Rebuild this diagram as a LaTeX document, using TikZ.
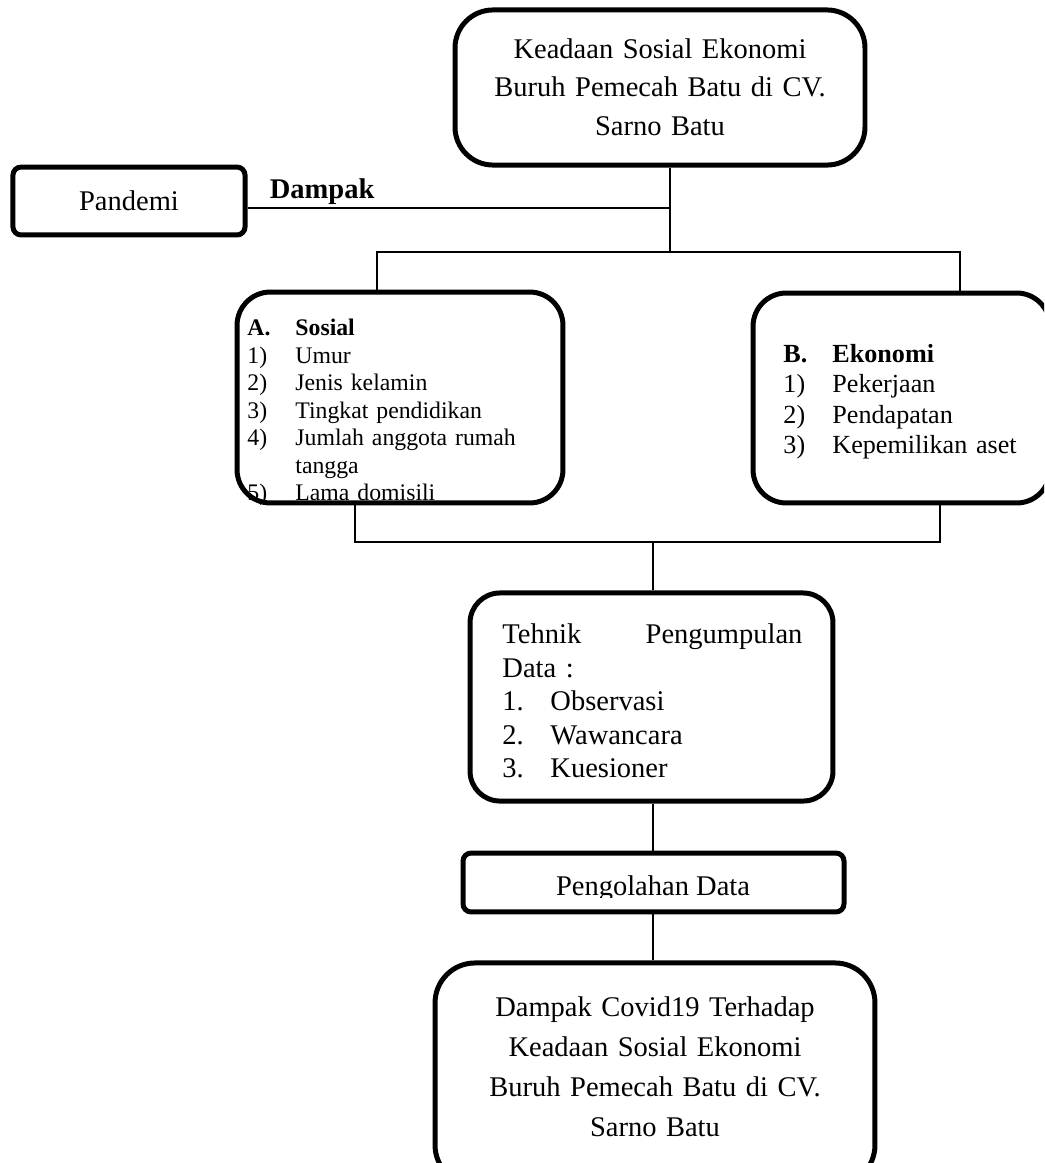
\documentclass[tikz,border=0pt]{standalone}
\usepackage{fontspec}
\setmainfont{Liberation Serif}
\usepackage{tikz}
\newcommand{\butir}[3][20.2pt]{\makebox[#1][l]{#2}#3}

\begin{document}
\begin{tikzpicture}[x=0.421pt,y=-0.421pt,
    kotak/.style={draw,line width=2.1pt,inner sep=0pt},
    garis/.style={line width=0.85pt},
    teks/.style={inner sep=0pt,anchor=north west,align=left}]
  \useasboundingbox (0,0) rectangle (1044,1163);
  \clip (0,0) rectangle (1044,1163);
  % kotak
  \node[kotak,rounded corners=16pt,minimum width=172.6pt,minimum height=65.3pt] (atas) at (660,87.5) {};
  \node[kotak,rounded corners=3.4pt,minimum width=97.7pt,minimum height=28.6pt,font=\fontsize{12}{14}\selectfont] (pandemi) at (129,201) {Pandemi};
  \node[kotak,rounded corners=14pt,minimum width=137.2pt,minimum height=88.8pt] (sosial) at (400,397.5) {};
  \node[kotak,rounded corners=14pt,minimum width=125pt,minimum height=88.4pt] (ekonomi) at (901.5,398) {};
  \node[kotak,rounded corners=12.6pt,minimum width=152.8pt,minimum height=87.6pt] (tehnik) at (651.5,697) {};
  \node[kotak,rounded corners=3.4pt,minimum width=160.4pt,minimum height=24.8pt] (olah) at (653.5,882.5) {};
  \node[kotak,rounded corners=16.8pt,minimum width=185.2pt,minimum height=93.5pt] (hasil) at (655,1074) {};
  % teks
  \node[inner sep=0pt,anchor=north,text width=170pt,align=center,font=\fontsize{12}{16.2}\selectfont] (atasT) at (660,31)
    {\strut Keadaan Sosial Ekonomi\\ Buruh Pemecah Batu di CV.\\ Sarno Batu};
  \node[teks,text width=125pt,font=\fontsize{10}{11.6}\selectfont] (sosialT) at (247,315.7)
    {\strut\butir{\textbf{A.}}{\textbf{Sosial}}\\ \butir{1)}{Umur}\\ \butir{2)}{Jenis kelamin}\\
     \butir{3)}{Tingkat pendidikan}\\ \butir{4)}{Jumlah anggota rumah}\\ \butir{}{tangga}\\
     \butir{5)}{Lama domisili}};
  \node[teks,text width=120pt,font=\fontsize{11}{12.76}\selectfont] (ekonomiT) at (783,340.7)
    {\strut\butir[20.6pt]{\textbf{B.}}{\textbf{Ekonomi}}\\ \butir[20.6pt]{1)}{Pekerjaan}\\
     \butir[20.6pt]{2)}{Pendapatan}\\ \butir[20.6pt]{3)}{Kepemilikan aset}};
  \node[teks,text width=126.3pt,font=\fontsize{12}{14.1}\selectfont] (tehnikT) at (502,619.6)
    {\makebox[126.3pt]{\strut Tehnik\hfill Pengumpulan}\\ Data :\\ \butir{1.}{Observasi}\\
     \butir{2.}{Wawancara}\\ \butir{3.}{Kuesioner}};
  \begin{scope}
    \clip (463,853) rectangle (844,897);
    \node[anchor=base,inner sep=0pt,font=\fontsize{12}{14}\selectfont] (olahT) at (653,895) {Pengolahan Data};
  \end{scope}
  \node[inner sep=0pt,anchor=north,text width=180pt,align=center,font=\fontsize{12}{16.8}\selectfont] (hasilT) at (655,988)
    {\strut Dampak Covid19 Terhadap\\ Keadaan Sosial Ekonomi\\ Buruh Pemecah Batu di CV.\\ Sarno Batu};
  % garis
  \coordinate (jAtas) at (670,252);
  \coordinate (jDampak) at (670,208);
  \coordinate (busKiri) at (377,252);
  \coordinate (busKanan) at (960,252);
  \coordinate (busBKiri) at (355,542);
  \coordinate (busBKanan) at (940,542);
  \coordinate (busB) at (653,542);
  \draw[garis] (atas.south -| jAtas) -- (jAtas);
  \draw[garis] (pandemi.east |- jDampak) -- (jDampak)
    node[pos=0,anchor=base west,inner sep=0pt,xshift=9pt,yshift=4.2pt,font=\fontsize{12}{14}\selectfont\bfseries] (dampak) {Dampak};
  \draw[garis] (sosial.north -| busKiri) |- (busKanan) -- (ekonomi.north -| busKanan);
  \draw[garis] (sosial.south -| busBKiri) |- (busBKanan) -- (ekonomi.south -| busBKanan);
  \draw[garis] (busB) -- (tehnik.north -| busB);
  \draw[garis] (tehnik.south -| busB) -- (olah.north -| busB);
  \draw[garis] (olah.south -| busB) -- (hasil.north -| busB);
\end{tikzpicture}
\end{document}
